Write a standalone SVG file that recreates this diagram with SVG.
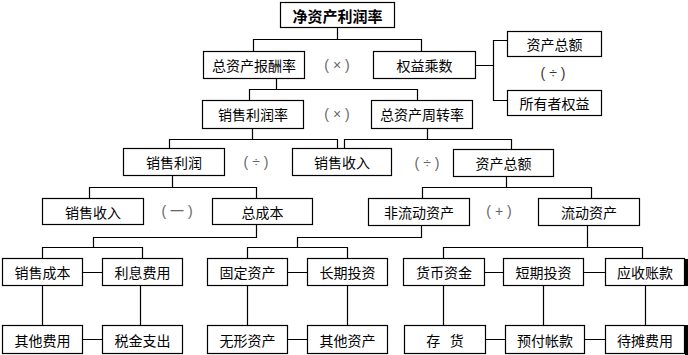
<svg xmlns="http://www.w3.org/2000/svg" width="688" height="355" viewBox="0 0 688 355">
<style>
.b rect{fill:#fff;stroke:#000;stroke-width:1.2}
text{font-family:"Noto Sans CJK SC","Liberation Sans",sans-serif;font-size:14px;fill:#000;text-anchor:middle;dominant-baseline:central}
.t{font-weight:bold;font-size:15px}
.op{font-family:"Liberation Sans","Noto Sans CJK SC",sans-serif;font-size:14px;fill:#666}
#conn path{fill:none;stroke:#000;stroke-width:1.2}
</style>
<rect width="688" height="355" fill="#fff"/>
<g id="conn">
<path d="M337.5 27.5V39.5M253.5 51.5V39.5H421.5V51.5"/>
<path d="M475.5 65.5H493.5M507.5 40.5H493.5V100.5H507.5"/>
<path d="M276.5 78.5V89.5M249.5 100.5V89.5H417.5V100.5"/>
<path d="M252.5 128.5V139.5M169.5 148.5V139.5H337.5V148.5"/>
<path d="M427.5 128.5V139.5M344.5 148.5V139.5H511.5V149.5"/>
<path d="M172.5 175.5V187.5M89.5 198.5V187.5H256.5V198.5"/>
<path d="M506.5 176.5V187.5M422.5 198.5V187.5H591.5V198.5"/>
<path d="M256.5 224.5V237.5H93.5V247.5M42.5 258.5V247.5H142.5V258.5"/>
<path d="M421.5 225.5V237.5H297.5V247.5M247.5 258.5V247.5H347.5V258.5"/>
<path d="M587.5 225.5V247.5M443.5 258.5V247.5H642.5V258.5"/>
<path d="M82.5 272.5H102.5M287.5 272.5H307.5M484.5 272.5H503.5M583.5 272.5H605.5"/>
<path d="M82.5 339.5H102.5M287.5 339.5H307.5M485.5 339.5H505.5M584.5 339.5H605.5"/>
<path d="M42.5 285.5V325.5M140.5 285.5V325.5M247.5 285.5V325.5M347.5 285.5V325.5M443.5 285.5V325.5M543.5 285.5V325.5M645.5 285.5V325.5"/>
</g>
<g id="n-roe" class="b"><rect x="280.5" y="2.5" width="114" height="25"/><text class="t" x="337.5" y="15">净资产利润率</text></g>
<g id="n-roa" class="b"><rect x="203.5" y="51.5" width="101" height="27"/><text x="254" y="65">总资产报酬率</text></g>
<g id="n-em" class="b"><rect x="373.5" y="51.5" width="102" height="27"/><text x="424.5" y="65">权益乘数</text></g>
<g id="n-ta1" class="b"><rect x="507.5" y="31.5" width="94" height="25"/><text x="554.5" y="44">资产总额</text></g>
<g id="n-oe" class="b"><rect x="507.5" y="90.5" width="94" height="25"/><text x="554.5" y="103">所有者权益</text></g>
<g id="n-pm" class="b"><rect x="202.5" y="100.5" width="101" height="28"/><text x="253" y="114">销售利润率</text></g>
<g id="n-at" class="b"><rect x="371.5" y="100.5" width="101" height="28"/><text x="422" y="114">总资产周转率</text></g>
<g id="n-np" class="b"><rect x="123.5" y="148.5" width="101" height="27"/><text x="174" y="162">销售利润</text></g>
<g id="n-s1" class="b"><rect x="292.5" y="148.5" width="99" height="27"/><text x="342" y="162">销售收入</text></g>
<g id="n-ta2" class="b"><rect x="453.5" y="149.5" width="100" height="27"/><text x="503.5" y="163">资产总额</text></g>
<g id="n-s2" class="b"><rect x="42.5" y="198.5" width="101" height="26"/><text x="93" y="211.5">销售收入</text></g>
<g id="n-tc" class="b"><rect x="212.5" y="198.5" width="100" height="26"/><text x="262.5" y="211.5">总成本</text></g>
<g id="n-nca" class="b"><rect x="368.5" y="198.5" width="101" height="27"/><text x="419" y="212">非流动资产</text></g>
<g id="n-ca" class="b"><rect x="538.5" y="198.5" width="101" height="27"/><text x="589" y="212">流动资产</text></g>
<g id="n-r5a" class="b"><rect x="2.5" y="258.5" width="80" height="27"/><text x="42.5" y="272">销售成本</text></g>
<g id="n-r5b" class="b"><rect x="102.5" y="258.5" width="80" height="27"/><text x="142.5" y="272">利息费用</text></g>
<g id="n-r5c" class="b"><rect x="207.5" y="258.5" width="80" height="27"/><text x="247.5" y="272">固定资产</text></g>
<g id="n-r5d" class="b"><rect x="307.5" y="258.5" width="80" height="27"/><text x="347.5" y="272">长期投资</text></g>
<g id="n-r5e" class="b"><rect x="403.5" y="258.5" width="81" height="27"/><text x="444" y="272">货币资金</text></g>
<g id="n-r5f" class="b"><rect x="503.5" y="258.5" width="80" height="27"/><text x="543.5" y="272">短期投资</text></g>
<g id="n-r5g" class="b"><rect x="605.5" y="258.5" width="79" height="27"/><text x="645" y="272">应收账款</text></g>
<g id="n-r6a" class="b"><rect x="2.5" y="325.5" width="80" height="28"/><text x="42.5" y="339.5">其他费用</text></g>
<g id="n-r6b" class="b"><rect x="102.5" y="325.5" width="80" height="28"/><text x="142.5" y="339.5">税金支出</text></g>
<g id="n-r6c" class="b"><rect x="207.5" y="325.5" width="80" height="28"/><text x="247.5" y="339.5">无形资产</text></g>
<g id="n-r6d" class="b"><rect x="307.5" y="325.5" width="80" height="28"/><text x="347.5" y="339.5">其他资产</text></g>
<g id="n-r6e" class="b"><rect x="404.5" y="325.5" width="81" height="28"/><text x="445" y="339.5" xml:space="preserve">存   货</text></g>
<g id="n-r6f" class="b"><rect x="505.5" y="325.5" width="79" height="28"/><text x="545" y="339.5">预付帐款</text></g>
<g id="n-r6g" class="b"><rect x="605.5" y="325.5" width="79" height="28"/><text x="645" y="339.5">待摊费用</text></g>
<rect x="685" y="259" width="3" height="27" fill="#000"/>
<rect x="685" y="325" width="3" height="30" fill="#000"/>
<g id="ops">
<text class="op" x="337" y="65" xml:space="preserve">( × )</text>
<text class="op" x="337" y="114" xml:space="preserve">( × )</text>
<text class="op" x="553" y="73" xml:space="preserve" style="fill:#333">( ÷ )</text>
<text class="op" x="256" y="162" xml:space="preserve">( ÷ )</text>
<text class="op" x="427" y="163" xml:space="preserve">( ÷ )</text>
<text class="op" x="177" y="211" xml:space="preserve">( 一 )</text>
<text class="op" x="499" y="211" xml:space="preserve">( + )</text>
</g>
</svg>
